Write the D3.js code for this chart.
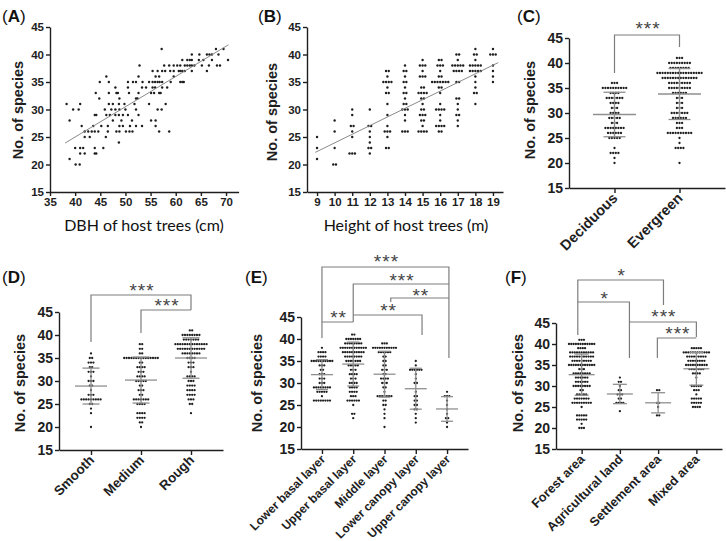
<!DOCTYPE html>
<html><head><meta charset="utf-8">
<script src="https://cdn.jsdelivr.net/npm/d3@7"></script>
<style>body{margin:0;background:#fff}svg{display:block}</style>
</head><body><svg id="c" width="726" height="541"></svg>
<script>
// ---------------- DATA ----------------
const speciesTicks = [15, 20, 25, 30, 35, 40, 45];
const dbhTicks = [35, 40, 45, 50, 55, 60, 65, 70];
const heightTicks = [9, 10, 11, 12, 13, 14, 15, 16, 17, 18, 19];

// (A) species richness -> DBH values (cm) of trees with that richness
const dbhRows = [
  [41, [57.2, 68.0, 69.5]],
  [40, [63.2, 64.7, 66.2, 66.7, 67.2, 68.5]],
  [39, [61.3, 62.3, 62.8, 63.2, 64.6, 65.5, 67.2, 70.4]],
  [38, [52.8, 57.7, 58.7, 59.6, 60.3, 60.9, 61.8, 62.3, 62.8, 63.2, 63.7, 65.2, 66.6, 68.2, 68.8]],
  [37, [55.4, 56.4, 57.3, 57.9, 58.9, 59.6, 60.6, 60.9, 61.3, 61.8, 63.2, 66.2]],
  [36, [46.2, 52.6, 56.0, 56.7, 59.6]],
  [35, [44.9, 46.7, 50.5, 51.5, 52.1, 53.4, 54.7, 55.4, 55.9, 56.4, 56.8, 57.3, 59.0, 60.9, 61.3, 61.6]],
  [34, [48.0, 50.5, 53.3, 54.1, 55.4, 55.9, 57.3, 58.3]],
  [33, [44.1, 46.7, 48.2, 48.5, 50.7, 52.6, 55.1, 55.7, 56.7, 57.0]],
  [32, [44.8, 48.8, 52.1, 52.4]],
  [31, [38.3, 41.0, 46.7, 47.5, 48.7, 49.8, 51.8, 54.7, 58.0]],
  [30, [39.6, 40.7, 45.9, 47.2, 48.0, 48.8, 50.0, 52.1, 56.4, 57.2]],
  [29, [43.9, 44.2, 46.2, 46.9, 48.0, 48.7, 49.5, 50.5, 52.6]],
  [28, [38.9, 47.5, 49.2, 51.3, 55.1, 56.0]],
  [27, [41.3, 43.6, 45.2, 46.5, 48.8, 49.5, 50.9, 52.1, 53.3, 56.0]],
  [26, [41.9, 42.6, 43.3, 43.9, 44.6, 46.5, 48.2, 48.8, 50.1, 50.8, 51.4, 56.7, 58.7]],
  [25, [41.9, 42.9, 46.1]],
  [24, [48.7]],
  [23, [40.0, 41.0, 41.6, 43.9, 45.6]],
  [22, [41.0, 41.9, 43.9, 44.2]],
  [21, [38.9]],
  [20, [40.1, 40.9]]
];
const dbhFit = { intercept: 3.0, slope: 0.55, from: 38, to: 70.5 };

// (B) tree height (m) -> [species, number of trees]
const heightRows = [
  [9,  [[25,1],[23,1],[21,1]]],
  [10, [[28,1],[26,1],[23,1],[20,2]]],
  [11, [[30,1],[29,1],[27,2],[26,1],[25,1],[22,3]]],
  [12, [[30,1],[27,2],[26,1],[25,1],[24,1],[23,2],[22,1]]],
  [13, [[37,2],[36,1],[35,4],[34,1],[33,2],[31,1],[29,1],[27,1],[26,3],[25,1],[23,2]]],
  [14, [[38,1],[37,2],[36,1],[35,2],[34,1],[33,2],[32,1],[31,2],[30,3],[29,1],[28,1],[26,3]]],
  [15, [[39,1],[38,3],[37,1],[36,3],[34,2],[33,4],[32,2],[31,1],[30,2],[29,3],[28,2],[27,1],[26,4]]],
  [16, [[39,2],[38,3],[37,1],[36,2],[35,7],[34,2],[33,1],[31,1],[30,4],[29,1],[28,1],[27,4],[26,2]]],
  [17, [[40,2],[39,1],[38,5],[37,4],[35,2],[32,2],[31,1],[30,1],[29,2],[28,1],[27,1]]],
  [18, [[41,1],[40,2],[39,1],[38,5],[37,5],[36,1],[35,1],[34,1],[33,2],[31,1]]],
  [19, [[41,1],[40,3],[38,1],[37,1],[36,1],[35,1]]]
];
const heightFit = { intercept: 8.23, slope: 1.57, from: 8.9, to: 19.3 };

// (C) leaf habit
const leafCats = ["Deciduous", "Evergreen"];
const leafCounts = [
  [[36,3],[35,10],[34,4],[33,7],[32,4],[31,3],[30,4],[29,5],[28,3],[27,8],[26,6],[25,5],[23,1],[22,4],[21,1],[20,1]],
  [[41,3],[40,9],[39,8],[38,18],[37,14],[36,9],[35,9],[34,6],[33,3],[32,3],[31,3],[30,7],[29,6],[28,3],[27,3],[26,10],[25,1],[24,1],[23,4],[20,1]]
];
const leafMean = [29.7, 33.8];
const leafSD = [4.45, 5.1];

// (D) bark texture
const barkCats = ["Smooth", "Medium", "Rough"];
const barkCounts = [
  [[36,1],[35,2],[34,3],[33,2],[32,3],[31,1],[30,3],[29,2],[28,1],[27,3],[26,9],[25,2],[24,1],[23,1],[20,1]],
  [[38,2],[37,2],[36,2],[35,15],[34,2],[33,4],[32,3],[31,4],[30,5],[29,2],[28,3],[27,2],[26,7],[25,4],[23,4],[22,4],[21,2],[20,1]],
  [[41,2],[40,8],[39,7],[38,14],[37,12],[36,8],[35,4],[34,3],[33,3],[32,1],[31,4],[30,3],[29,4],[28,4],[27,4],[26,3],[25,2],[23,1]]
];
const barkMean = [28.9, 30.2, 35.0];
const barkSD = [3.9, 5.0, 4.4];

// (E) vertical layer
const layerCats = ["Lower basal layer", "Upper basal layer", "Middle layer", "Lower canopy layer", "Upper canopy layer"];
const layerCounts = [
  [[38,1],[37,4],[36,4],[35,10],[34,3],[33,2],[32,3],[31,3],[30,3],[29,8],[28,5],[27,1],[26,8]],
  [[41,2],[40,7],[39,8],[38,12],[37,10],[36,8],[35,7],[34,5],[33,3],[32,4],[31,3],[30,4],[29,4],[28,4],[27,3],[26,6],[25,1],[23,2],[22,1]],
  [[39,3],[38,11],[37,6],[36,2],[35,2],[34,2],[33,3],[32,2],[31,4],[30,3],[29,2],[28,1],[27,7],[26,2],[25,2],[24,1],[23,1],[22,1],[20,1]],
  [[35,1],[34,1],[33,6],[32,1],[31,1],[30,2],[28,1],[27,2],[26,2],[25,2],[24,2],[23,1],[22,1],[21,1]],
  [[28,1],[27,3],[26,1],[25,1],[24,1],[23,1],[22,2],[21,1],[20,1]]
];
const layerMean = [31.9, 34.3, 32.0, 28.7, 24.1];
const layerSD = [3.4, 5.0, 5.2, 4.65, 2.8];

// (F) land use
const landCats = ["Forest area", "Agricultural land", "Settlement area", "Mixed area"];
const landCounts = [
  [[41,3],[40,12],[39,4],[38,11],[37,11],[36,9],[35,12],[34,3],[33,8],[32,6],[31,6],[30,8],[29,2],[28,5],[27,7],[26,9],[25,1],[23,5],[22,5],[21,1],[20,3]],
  [[32,1],[31,2],[30,1],[29,2],[28,3],[27,2],[26,4],[24,1]],
  [[29,2],[26,2],[25,1],[23,2]],
  [[39,5],[38,12],[37,9],[36,8],[35,10],[34,7],[33,4],[32,1],[30,5],[29,3],[28,1],[27,5],[26,5],[25,4]]
];
const landMean = [32.7, 28.1, 26.0, 34.1];
const landSD = [4.9, 2.3, 2.4, 3.9];

// ---------------- DRAWING ----------------
const svg = d3.select("#c");
const FONT = "'Liberation Sans', Arial, Helvetica, sans-serif";
const INK = "#1e1e1e";
const GREY = "#8f8f8f";
const BR = "#7d7d7d";

function styleAxis(g, fs) {
  g.selectAll("path,line").attr("stroke", INK).attr("stroke-width", 1.4);
  g.selectAll("text").attr("font-family", FONT).attr("font-weight", "bold")
    .attr("font-size", fs).attr("fill", INK);
}
function panelLabel(x, y, letter) {
  const t = svg.append("text").attr("x", x).attr("y", y).attr("font-family", FONT)
    .attr("font-size", 17).attr("fill", "#111");
  t.append("tspan").text("(");
  t.append("tspan").attr("font-weight", "bold").text(letter);
  t.append("tspan").text(")");
}
function yTitle(x, y) {
  svg.append("text").attr("transform", `translate(${x},${y}) rotate(-90)`)
    .attr("text-anchor", "middle").attr("dominant-baseline", "central")
    .attr("font-family", FONT).attr("font-weight", "bold").attr("font-size", 14.5)
    .attr("fill", INK).text("No. of species");
}
function xTitle(x, y, txt) {
  svg.append("text").attr("x", x).attr("y", y).attr("text-anchor", "middle")
    .attr("font-family", "Lato, 'Open Sans', sans-serif").attr("font-size", 16)
    .attr("fill", "#111").text(txt);
}
function bracket(pts, label, lx, ly) {
  svg.append("path").attr("d", d3.line()(pts)).attr("fill", "none")
    .attr("stroke", BR).attr("stroke-width", 1.2);
  svg.append("text").attr("x", lx + 1).attr("y", ly).attr("text-anchor", "middle")
    .attr("font-family", FONT).attr("font-size", 19).attr("fill", "#444")
    .attr("letter-spacing", 1).text(label);
}

// ---- Panel A ----
{
  const x = d3.scaleLinear().domain([35, 72.5]).range([50, 238.6]);
  const y = d3.scaleLinear().domain([15, 45]).range([192, 27]);
  const pts = dbhRows.flatMap(([v, xs]) => xs.map(d => ({ x: d, v })));
  svg.append("g").selectAll("circle").data(pts).join("circle")
    .attr("cx", d => x(d.x)).attr("cy", d => y(d.v)).attr("r", 1.2).attr("fill", INK);
  svg.append("line").attr("x1", x(dbhFit.from)).attr("y1", y(dbhFit.intercept + dbhFit.slope * dbhFit.from))
    .attr("x2", x(dbhFit.to)).attr("y2", y(dbhFit.intercept + dbhFit.slope * dbhFit.to))
    .attr("stroke", "#8a8a8a").attr("stroke-width", 1);
  const gy = svg.append("g").attr("transform", "translate(50,0)")
    .call(d3.axisLeft(y).tickValues(speciesTicks).tickSize(4).tickSizeOuter(0).tickPadding(2));
  styleAxis(gy, 11.5);
  const gx = svg.append("g").attr("transform", "translate(0,192)")
    .call(d3.axisBottom(x).tickValues(dbhTicks).tickSize(4).tickSizeOuter(0).tickPadding(2));
  styleAxis(gx, 11.5);
  panelLabel(2, 22, "A");
  yTitle(18, 110);
  xTitle(144, 231, "DBH of host trees (cm)");
}

// ---- Panel B ----
{
  const x = d3.scaleLinear().domain([8.43, 19.57]).range([307, 503]);
  const y = d3.scaleLinear().domain([15, 45]).range([192, 27]);
  const pts = heightRows.flatMap(([h, rows]) => rows.flatMap(([v, n]) =>
    d3.range(n).map(i => ({ h, v, off: (i - (n - 1) / 2) * 2.7 }))));
  svg.append("g").selectAll("circle").data(pts).join("circle")
    .attr("cx", d => x(d.h) + d.off).attr("cy", d => y(d.v)).attr("r", 1.2).attr("fill", INK);
  svg.append("line").attr("x1", x(heightFit.from)).attr("y1", y(heightFit.intercept + heightFit.slope * heightFit.from))
    .attr("x2", x(heightFit.to)).attr("y2", y(heightFit.intercept + heightFit.slope * heightFit.to))
    .attr("stroke", "#8a8a8a").attr("stroke-width", 1);
  const gy = svg.append("g").attr("transform", "translate(307,0)")
    .call(d3.axisLeft(y).tickValues(speciesTicks).tickSize(4).tickSizeOuter(0).tickPadding(2));
  styleAxis(gy, 11.5);
  const gx = svg.append("g").attr("transform", "translate(0,192)")
    .call(d3.axisBottom(x).tickValues(heightTicks).tickSize(4).tickSizeOuter(0).tickPadding(2));
  styleAxis(gx, 11.5);
  panelLabel(258, 22, "B");
  yTitle(272, 112);
  xTitle(406, 231, "Height of host trees (m)");
}

// ---- Dot plot panels ----
function dotPanel(o) {
  const y = d3.scaleLinear().domain([15, 45]).range([o.yBot, o.yTop]);
  const x = d3.scalePoint().domain(o.cats).range([o.x0, o.x1]).padding(o.pad);
  const pts = o.counts.flatMap((rows, gi) => rows.flatMap(([v, n]) =>
    d3.range(n).map(i => ({ c: o.cats[gi], v, off: (i - (n - 1) / 2) * o.sp }))));
  svg.append("g").selectAll("circle").data(pts).join("circle")
    .attr("cx", d => x(d.c) + d.off).attr("cy", d => y(d.v)).attr("r", 1.15).attr("fill", INK);
  const g = svg.append("g").attr("stroke", GREY).attr("stroke-width", 1.3);
  o.cats.forEach((c, i) => {
    const cx = x(c), m = o.means[i], s = o.sds[i];
    g.append("line").attr("x1", cx).attr("x2", cx).attr("y1", y(m + s)).attr("y2", y(m - s));
    g.append("line").attr("x1", cx - o.mw / 2).attr("x2", cx + o.mw / 2).attr("y1", y(m)).attr("y2", y(m));
    [m + s, m - s].forEach(v => g.append("line").attr("x1", cx - o.sw / 2).attr("x2", cx + o.sw / 2)
      .attr("y1", y(v)).attr("y2", y(v)));
  });
  const gy = svg.append("g").attr("transform", `translate(${o.x0},0)`)
    .call(d3.axisLeft(y).tickValues(speciesTicks).tickSize(4).tickSizeOuter(0).tickPadding(2));
  styleAxis(gy, 14);
  const gx = svg.append("g").attr("transform", `translate(0,${o.yBot})`)
    .call(d3.axisBottom(x).tickSize(5).tickSizeOuter(0).tickFormat(""));
  styleAxis(gx, 12);
  svg.append("g").selectAll("text").data(o.cats).join("text")
    .attr("transform", d => `translate(${x(d) + 4},${o.yBot + 11}) rotate(-45)`)
    .attr("text-anchor", "end").attr("font-family", FONT).attr("font-weight", "bold")
    .attr("font-size", o.cf).attr("fill", INK).text(d => d);
  return { x, y, step: x.step() };
}

// C
{
  const p = dotPanel({ cats: leafCats, counts: leafCounts, means: leafMean, sds: leafSD,
    x0: 569, x1: 725, yTop: 38, yBot: 188, pad: 0.7, sp: 2.6, mw: 43, sw: 22, cf: 14.5 });
  const a = p.x(leafCats[0]), b = p.x(leafCats[1]);
  bracket([[a, 73], [a, 35], [b, 35], [b, 47]], "***", (a + b) / 2, 35);
  panelLabel(517, 22, "C");
  yTitle(530, 110);
}
// D
{
  const p = dotPanel({ cats: barkCats, counts: barkCounts, means: barkMean, sds: barkSD,
    x0: 59, x1: 223, yTop: 312, yBot: 450, pad: 0.64, sp: 2.4, mw: 32, sw: 17, cf: 13.5 });
  const s = p.x(barkCats[0]), m = p.x(barkCats[1]), r = p.x(barkCats[2]);
  bracket([[s, 342], [s, 295], [r, 295], [r, 310]], "***", (s + r) / 2, 297);
  bracket([[m, 333], [m, 310], [r, 310]], "***", (m + r) / 2, 312);
  panelLabel(2, 283, "D");
  yTitle(20, 383);
}
// E
{
  const p = dotPanel({ cats: layerCats, counts: layerCounts, means: layerMean, sds: layerSD,
    x0: 301, x1: 468, yTop: 317, yBot: 449, pad: 0.67, sp: 2.3, mw: 22, sw: 12, cf: 12 });
  const xi = i => p.x(layerCats[0]) + i * p.step;
  bracket([[xi(0), 338], [xi(0), 267], [xi(4.06), 267], [xi(4.06), 358]], "***", (xi(0) + xi(4.06)) / 2, 268);
  bracket([[xi(1), 322], [xi(1), 284], [xi(4.06), 284]], "***", (xi(1) + xi(4.06)) / 2, 287);
  bracket([[xi(2.2), 302], [xi(2.2), 298], [xi(4.06), 298]], "**", (xi(2.2) + xi(4.06)) / 2, 302);
  bracket([[xi(1), 315], [xi(3.2), 315], [xi(3.2), 335]], "**", (xi(1) + xi(3.2)) / 2, 317);
  bracket([[xi(0), 322], [xi(1), 322]], "**", (xi(0) + xi(1)) / 2, 324);
  panelLabel(245, 283, "E");
  yTitle(257, 383);
}
// F
{
  const p = dotPanel({ cats: landCats, counts: landCounts, means: landMean, sds: landSD,
    x0: 556, x1: 722, yTop: 323, yBot: 449, pad: 0.67, sp: 2.3, mw: 26, sw: 14, cf: 12.8 });
  const xi = i => p.x(landCats[0]) + i * p.step;
  bracket([[xi(-0.1), 335], [xi(-0.1), 280], [xi(2.14), 280], [xi(2.14), 305]], "*", (xi(-0.1) + xi(2.14)) / 2, 282);
  bracket([[xi(-0.1), 302], [xi(1.25), 302], [xi(1.25), 358]], "*", (xi(-0.1) + xi(1.25)) / 2, 305);
  bracket([[xi(1.25), 322], [xi(3), 322], [xi(3), 337]], "***", (xi(1.25) + xi(3)) / 2, 323);
  bracket([[xi(1.98), 358], [xi(1.98), 338], [xi(3), 338]], "***", (xi(1.98) + xi(3)) / 2, 340);
  panelLabel(505, 283, "F");
  yTitle(518, 383);
}
</script></body></html>
